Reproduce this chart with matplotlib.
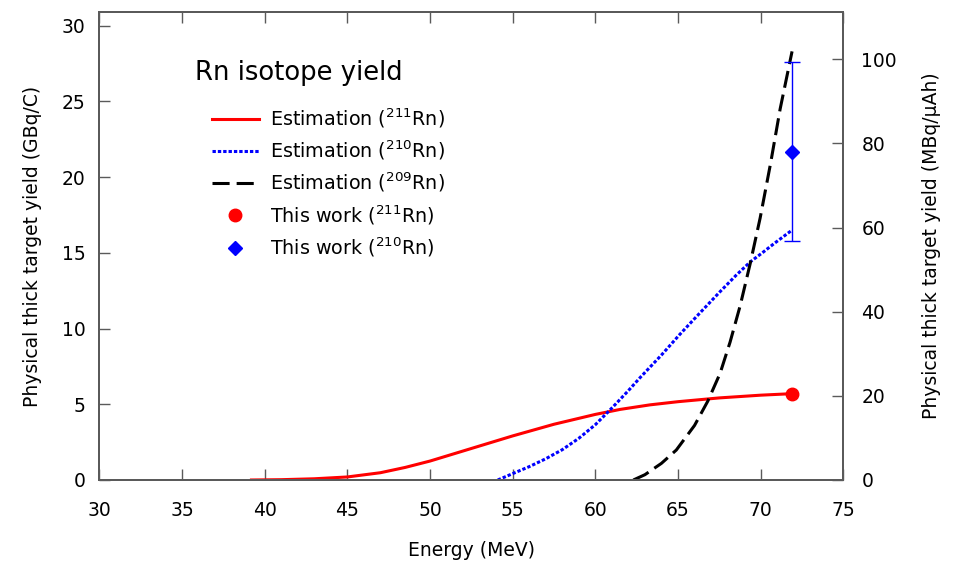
import matplotlib
matplotlib.use("Agg")
import matplotlib.pyplot as plt
from matplotlib.lines import Line2D

plt.rcParams['font.family'] = ['DejaVu Sans']
plt.rcParams['mathtext.fontset'] = 'dejavusans'

# Estimated thick target yields (GBq/C) vs. beam energy (MeV)
e_211 = [39.2, 41.0, 43.0, 45.0, 47.0, 48.5, 50.0, 52.5, 55.0, 57.5, 60.0,
         61.5, 63.3, 65.0, 67.5, 70.0, 71.9]
y_211 = [0.0, 0.02, 0.08, 0.2, 0.48, 0.83, 1.25, 2.08, 2.91, 3.68, 4.33,
         4.66, 4.96, 5.17, 5.42, 5.6, 5.7]

e_210 = [54.1, 55.0, 56.0, 57.0, 58.0, 59.0, 60.0, 61.0, 62.0, 62.7, 64.0,
         65.1, 66.3, 67.55, 68.5, 69.37, 70.1, 70.8, 71.9]
y_210 = [0.0, 0.42, 0.88, 1.4, 2.0, 2.75, 3.65, 4.75, 5.9, 6.75, 8.25,
         9.6, 11.0, 12.44, 13.5, 14.4, 15.0, 15.6, 16.5]

e_209 = [62.3, 63.0, 64.0, 64.9, 66.0, 66.8, 67.55, 68.15, 68.76, 69.37,
         69.97, 70.6, 71.18, 71.9]
y_209 = [0.0, 0.35, 1.1, 1.98, 3.6, 5.2, 7.05, 9.1, 11.5, 14.3,
         17.3, 20.9, 24.5, 28.3]

# Measured yields
meas_e = 71.9
meas_211 = 5.68          # GBq/C
meas_211_err = 0.2
meas_210 = 78.0          # MBq/uAh
meas_210_lo = 21.1
meas_210_hi = 21.3

GBQC_TO_MBQUAH = 3.6
x_ticks = [30, 35, 40, 45, 50, 55, 60, 65, 70, 75]
y_ticks = [0, 5, 10, 15, 20, 25, 30]
y2_ticks = [0, 20, 40, 60, 80, 100]

spine_col = '#5a5a5a'
lw = 2.2

fig = plt.figure(figsize=(9.57, 5.61), dpi=100)
ax = fig.add_axes([0.1038, 0.1444, 0.7774, 0.8342])
ax2 = ax.twinx()

ax.set_xlim(30, 75)
ymax = 30.9
ax.set_ylim(0, ymax)
ax2.set_ylim(0, ymax * GBQC_TO_MBQUAH)

l1, = ax.plot(e_211, y_211, color='red', lw=lw, solid_joinstyle='round')
l2, = ax.plot(e_210, y_210, color='blue', lw=lw, linestyle=(0, (1.1, 0.65)))
l3, = ax.plot(e_209, y_209, color='black', lw=lw, linestyle=(0, (5.6, 2.3)))

ax.errorbar([meas_e], [meas_211], yerr=[meas_211_err], fmt='o', color='red',
            ms=9, capsize=0, elinewidth=1)
ax2.errorbar([meas_e], [meas_210], yerr=[[meas_210_lo], [meas_210_hi]], fmt='D',
             color='blue', ms=7, capsize=6, elinewidth=1, capthick=1)

for a in (ax, ax2):
    for s in a.spines.values():
        s.set_color(spine_col)
        s.set_linewidth(1.4)

ax.set_xticks(x_ticks)
ax.set_yticks(y_ticks)
ax2.set_yticks(y2_ticks)
ax.tick_params(axis='x', direction='in', length=8, width=1, color=spine_col,
               top=True, labelsize=13.5, pad=15)
ax.tick_params(axis='y', direction='in', length=8, width=1, color=spine_col,
               right=False, labelsize=13.5, pad=10)
ax2.tick_params(axis='y', direction='in', length=8, width=1, color=spine_col,
                left=False, labelsize=13.5, pad=13)

ax.set_xlabel('Energy (MeV)', fontsize=13.5, labelpad=15)
ax.set_ylabel('Physical thick target yield (GBq/C)', fontsize=13.5, labelpad=14)
ax2.set_ylabel('Physical thick target yield (MBq/\u03bcAh)', fontsize=13.5,
               labelpad=18)

ax.text(0.128, 0.87, 'Rn isotope yield', transform=ax.transAxes, fontsize=18.6,
        ha='left', va='center')

handles = [
    l1, l2, l3,
    Line2D([], [], linestyle='none', marker='o', color='red', ms=9),
    Line2D([], [], linestyle='none', marker='D', color='blue', ms=7),
]
labels = ['Estimation ($^{211}$Rn)', 'Estimation ($^{210}$Rn)',
          'Estimation ($^{209}$Rn)', 'This work ($^{211}$Rn)',
          'This work ($^{210}$Rn)']
ax.legend(handles, labels, loc='upper left', bbox_to_anchor=(0.141, 0.815),
          frameon=False, fontsize=13.8, handlelength=2.45, handletextpad=0.6,
          labelspacing=0.46, borderaxespad=0)

fig.savefig('out.png', dpi=100)
